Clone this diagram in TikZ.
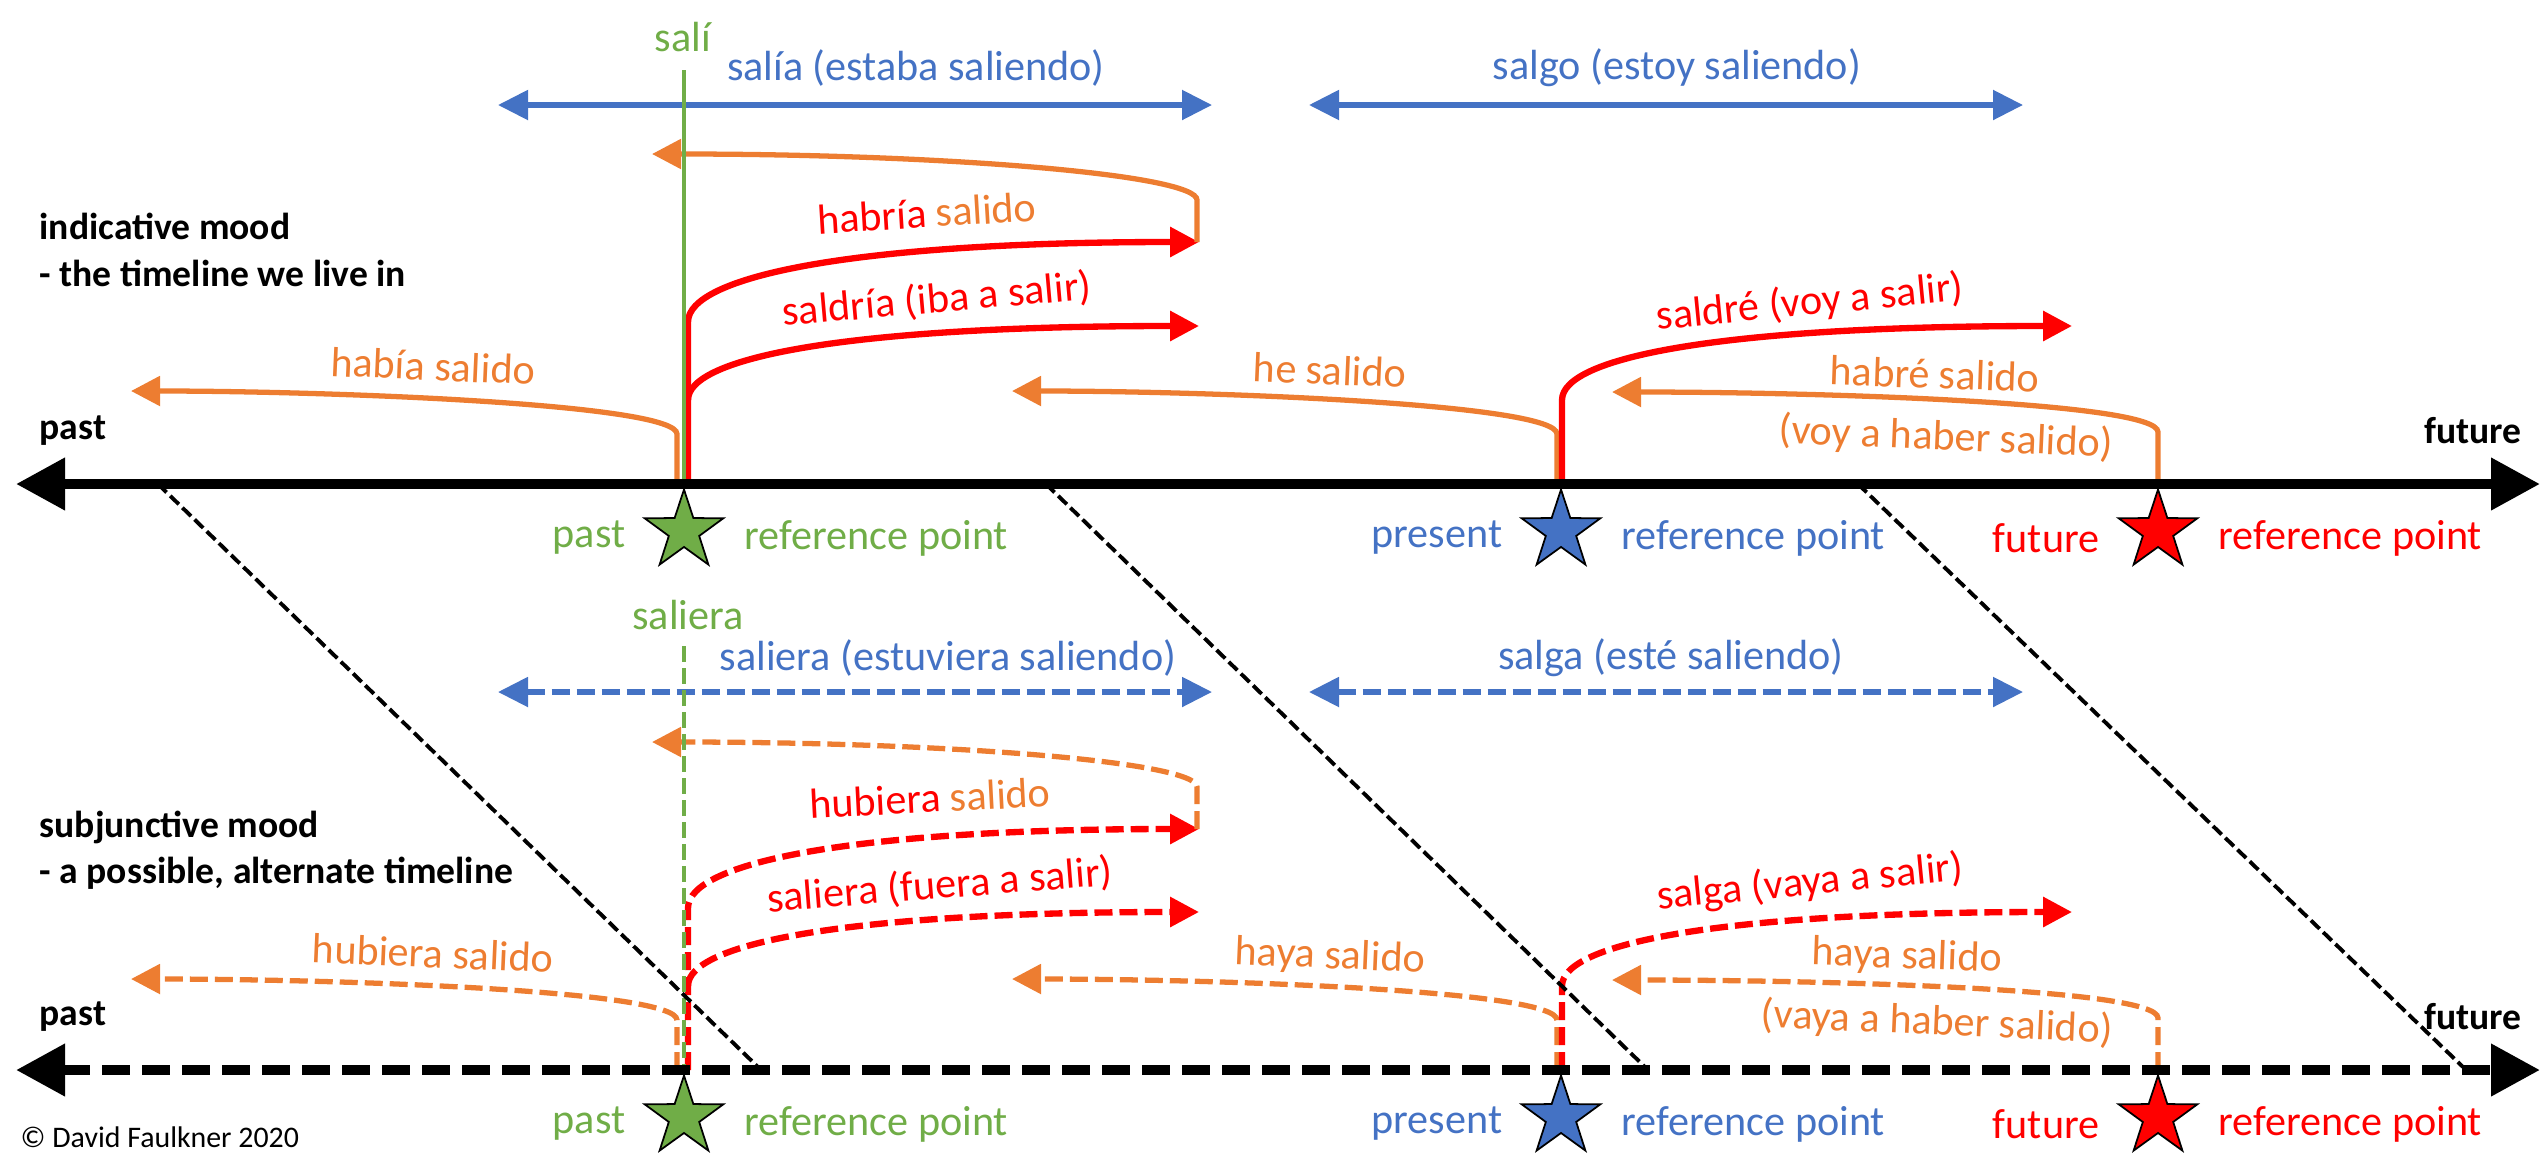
\documentclass[tikz,border=0pt]{standalone}
\usepackage{fontspec}
\setmainfont{Carlito}
\usetikzlibrary{arrows.meta, shapes.geometric, positioning}
\definecolor{moodblue}{HTML}{4472C4}
\definecolor{moodorange}{HTML}{ED7D31}
\definecolor{moodgreen}{HTML}{70AD47}
\definecolor{moodred}{HTML}{FF0000}
\tikzstyle{timeline} = [line width=3pt, {Triangle[length=4.9mm, width=5mm]}-{Triangle[length=4.9mm, width=5mm]}]
\tikzstyle{spanarrow} = [moodblue, line width=1.5pt, {Triangle[length=3mm, width=2.9mm]}-{Triangle[length=3mm, width=2.9mm]}]
\tikzstyle{backarrow} = [moodorange, line width=1.5pt, -{Triangle[length=2.9mm, width=2.9mm]}]
\tikzstyle{aheadarrow} = [moodred, line width=1.8pt, -{Triangle[length=2.9mm, width=2.9mm]}]
\tikzstyle{momentline} = [moodgreen, line width=1.4pt]
\tikzstyle{maybedash} = [dash pattern=on 1.8mm off 0.7mm]
\tikzstyle{dividerline} = [black, line width=1.1pt, dash pattern=on 1.2mm off 0.5mm]
\tikzstyle{refstar} = [star, star points=5, star point ratio=2.6, minimum size=8.3mm, inner sep=0pt, draw=black, line width=0.5pt]
\tikzstyle{lbl} = [inner sep=0pt, font=\fontsize{12}{14}\selectfont]
\tikzstyle{starlbl} = [lbl, yshift=-0.7mm]
\tikzstyle{mood} = [inner sep=0pt, anchor=west, align=left, font=\fontsize{10.7}{13.2}\selectfont\bfseries]

\begin{document}
\begin{tikzpicture}[x=0.1mm, y=-0.1mm]
\useasboundingbox (0,0) rectangle (2547,1159);

% indicative mood
\coordinate (tlL) at (16,484);
\coordinate (tlR) at (2540,484);
\coordinate (pastT) at (684,484);
\coordinate (presT) at (1561,484);
\coordinate (futT) at (2158,484);
\coordinate (impfL) at (498,105);
\coordinate (impfR) at (1212,105);
\coordinate (presL) at (1309,105);
\coordinate (presR) at (2023,105);
\coordinate (pretTop) at (684,70);
\coordinate (plupTip) at (131,391);
\coordinate (perfTip) at (1012,391);
\coordinate (futperfTip) at (1612,392);
\coordinate (condTip) at (1199,242);
\coordinate (condperfTip) at (652,154);
\coordinate (pastfutTip) at (1199,326);
\coordinate (futTip) at (2072,326);

\draw[spanarrow] (impfL) -- (impfR);
\draw[spanarrow] (presL) -- (presR);
\node[lbl, moodblue] (impf) at (916,68) {salía (estaba saliendo)};
\node[lbl, moodblue] (pres) at (1677,68) {salgo (estoy saliendo)};
\node[lbl, moodgreen] (pret) at (683,37) {salí};

\draw[backarrow] (pastT) ++(-7,0) -- ++(0,-50) .. controls +(0,-30) and +(200,0) .. (plupTip);
\draw[backarrow] (presT) ++(-4,0) -- ++(0,-50) .. controls +(0,-30) and +(200,0) .. (perfTip);
\draw[backarrow] (futT) -- ++(0,-52) .. controls +(0,-30) and +(200,0) .. (futperfTip);
\draw[aheadarrow] (pastT) ++(4,0) -- ++(0,-162) .. controls +(0,-45) and +(-350,0) .. (condTip);
\draw[aheadarrow] (pastT) ++(4,-84) .. controls +(0,-43) and +(-350,0) .. (pastfutTip);
\draw[aheadarrow] (presT) ++(1,0) -- ++(0,-84) .. controls +(0,-43) and +(-350,0) .. (futTip);
\draw[backarrow] (condTip) ++(-2,0) -- ++(0,-42) .. controls +(0,-25) and +(298,0) .. (condperfTip);
\draw[momentline] (pretTop) -- (pastT);

\node[lbl, moodorange, rotate=-2.5] (plup) at (433,366) {había salido};
\node[lbl, moodorange, rotate=-2.5] (perf) at (1330,370) {he salido};
\node[lbl, moodorange, rotate=-2] (futperf) at (1935,374) {habré salido};
\node[lbl, moodorange, rotate=-2.5] (futperfb) at (1946,438) {(voy a haber salido)};
\node[lbl, moodred, rotate=3.5] (condperf) at (927,213) {habría \textcolor{moodorange}{salido}};
\node[lbl, moodred, rotate=5] (cond) at (937,300) {saldría (iba a salir)};
\node[lbl, moodred, rotate=5.5] (fut) at (1810,303) {saldré (voy a salir)};

\node[mood] (indic) at (39,250) {indicative mood\\- the timeline we live in};
\node[mood] (pastend) at (39,431) {past};
\node[mood, anchor=east] (futend) at (2522,431) {future};

\draw[timeline] (tlL) -- (tlR);

% subjunctive mood
\coordinate (tlLb) at (16,1070);
\coordinate (tlRb) at (2540,1070);
\coordinate (pastB) at (684,1070);
\coordinate (presB) at (1561,1070);
\coordinate (futB) at (2158,1070);
\coordinate (impsL) at (498,692);
\coordinate (impsR) at (1212,692);
\coordinate (subjL) at (1309,692);
\coordinate (subjR) at (2023,692);
\coordinate (impsTop) at (684,646);
\coordinate (plupsTip) at (131,979);
\coordinate (perfsTip) at (1012,979);
\coordinate (futperfsTip) at (1612,980);
\coordinate (condsTip) at (1199,829);
\coordinate (condperfsTip) at (652,742);
\coordinate (pastfutsTip) at (1199,912);
\coordinate (futsTip) at (2072,912);

\draw[spanarrow, maybedash] (impsL) -- (impsR);
\draw[spanarrow, maybedash] (subjL) -- (subjR);
\node[lbl, moodblue] (imps) at (948,658) {saliera (estuviera saliendo)};
\node[lbl, moodblue] (subj) at (1671,658) {salga (esté saliendo)};
\node[lbl, moodgreen] (pretsub) at (688,615) {saliera};

\draw[backarrow, maybedash] (pastB) ++(-7,0) -- ++(0,-50) .. controls +(0,-30) and +(200,0) .. (plupsTip);
\draw[backarrow, maybedash] (presB) ++(-4,0) -- ++(0,-50) .. controls +(0,-30) and +(200,0) .. (perfsTip);
\draw[backarrow, maybedash] (futB) -- ++(0,-52) .. controls +(0,-30) and +(200,0) .. (futperfsTip);
\draw[aheadarrow, maybedash] (pastB) ++(4,0) -- ++(0,-162) .. controls +(0,-45) and +(-350,0) .. (condsTip);
\draw[aheadarrow, maybedash] (pastB) ++(4,-84) .. controls +(0,-43) and +(-350,0) .. (pastfutsTip);
\draw[aheadarrow, maybedash] (presB) ++(1,0) -- ++(0,-84) .. controls +(0,-43) and +(-350,0) .. (futsTip);
\draw[backarrow, maybedash] (condsTip) ++(-2,0) -- ++(0,-42) .. controls +(0,-25) and +(298,0) .. (condperfsTip);
\draw[momentline, dash pattern=on 1.6mm off 0.6mm] (impsTop) -- (pastB);

\node[lbl, moodorange, rotate=-2.5] (plups) at (433,953) {hubiera salido};
\node[lbl, moodorange, rotate=-2.5] (perfs) at (1330,957) {haya salido};
\node[lbl, moodorange, rotate=-2] (futperfs) at (1907,957) {haya salido};
\node[lbl, moodorange, rotate=-2.5] (futperfsb) at (1937,1023) {(vaya a haber salido)};
\node[lbl, moodred, rotate=3] (condperfs) at (930,798) {hubiera \textcolor{moodorange}{salido}};
\node[lbl, moodred, rotate=4.5] (conds) at (940,886) {saliera (fuera a salir)};
\node[lbl, moodred, rotate=5.5] (futs) at (1810,883) {salga (vaya a salir)};

\node[mood] (subjunc) at (39,850) {subjunctive mood\\- a possible, alternate timeline};
\node[mood] (pastendb) at (39,1017) {past};
\node[mood, anchor=east] (futendb) at (2522,1017) {future};

\draw[timeline, dash pattern=on 2.8mm off 1.2mm] (tlLb) -- (tlRb);

% dividers
\coordinate (d1a) at (158,484);
\coordinate (d1b) at (758,1067);
\coordinate (d2a) at (1046,484);
\coordinate (d2b) at (1645,1067);
\coordinate (d3a) at (1858,484);
\coordinate (d3b) at (2463,1067);
\draw[dividerline] (d1a) -- (d1b);
\draw[dividerline] (d2a) -- (d2b);
\draw[dividerline] (d3a) -- (d3b);

% reference points
\node[refstar, fill=moodgreen] (pastref) at (684,531) {};
\node[refstar, fill=moodblue] (presref) at (1561,531) {};
\node[refstar, fill=moodred] (futref) at (2158,531) {};
\node[starlbl, moodgreen, left=5.8mm of pastref.center] (pastlbl) {past};
\node[starlbl, moodgreen, right=6mm of pastref.center] (pastrp) {reference point};
\node[starlbl, moodblue, left=5.8mm of presref.center] (preslbl) {present};
\node[starlbl, moodblue, right=6mm of presref.center] (presrp) {reference point};
\node[starlbl, moodred, left=5.8mm of futref.center] (futlbl) {future};
\node[starlbl, moodred, right=6mm of futref.center] (futrp) {reference point};

\node[refstar, fill=moodgreen] (pastrefb) at (684,1117) {};
\node[refstar, fill=moodblue] (presrefb) at (1561,1117) {};
\node[refstar, fill=moodred] (futrefb) at (2158,1117) {};
\node[starlbl, moodgreen, left=5.8mm of pastrefb.center] (pastlblb) {past};
\node[starlbl, moodgreen, right=6mm of pastrefb.center] (pastrpb) {reference point};
\node[starlbl, moodblue, left=5.8mm of presrefb.center] (preslblb) {present};
\node[starlbl, moodblue, right=6mm of presrefb.center] (presrpb) {reference point};
\node[starlbl, moodred, left=5.8mm of futrefb.center] (futlblb) {future};
\node[starlbl, moodred, right=6mm of futrefb.center] (futrpb) {reference point};

\node[inner sep=0pt, anchor=west, font=\fontsize{8.5}{10}\selectfont] (credit) at (20,1137) {© David Faulkner 2020};
\end{tikzpicture}
\end{document}
